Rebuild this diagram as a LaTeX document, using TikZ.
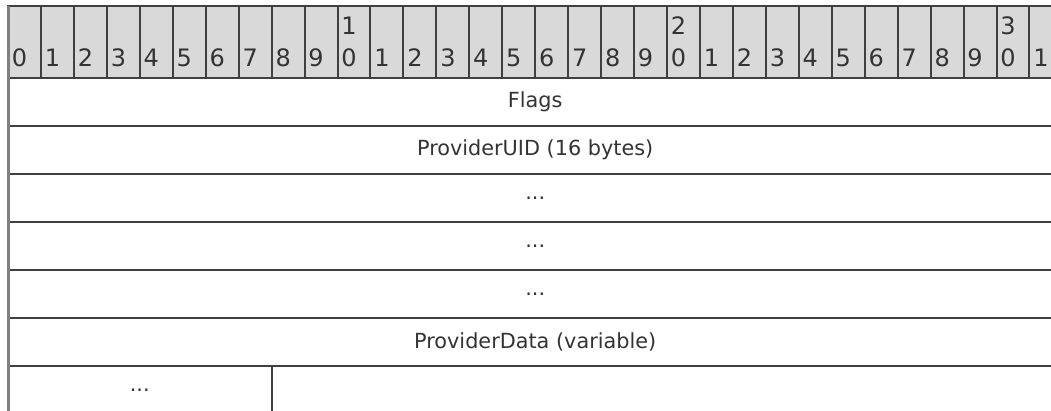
\documentclass[tikz,border=0pt]{standalone}
\usepackage{fontspec}
\setmainfont{DejaVu Sans}
\usetikzlibrary{positioning}

\definecolor{hdrfill}{HTML}{D9D9D9}
\definecolor{rule}{HTML}{404040}
\definecolor{txt}{HTML}{333333}

\tikzset{
  bitcell/.style={draw=rule, fill=hdrfill, line width=1pt, anchor=north west,
    minimum width=16.475pt, minimum height=36pt, inner sep=0pt, outer sep=0pt},
  bitnum/.style={anchor=base west, inner sep=0pt, text=txt,
    font=\fontsize{12}{13}\selectfont},
  field/.style={draw=rule, line width=1pt, anchor=north west, text=txt,
    minimum width=527.2pt, minimum height=24pt, inner sep=0pt, outer sep=0pt},
  shortfield/.style={field, minimum width=131.8pt},
}

\begin{document}
\begin{tikzpicture}[x=0.5pt,y=-0.5pt,font=\fontsize{10.4}{13}\selectfont]
  \clip (0,0) rectangle (1051,411);

  % header row: bit numbers
  \foreach \i in {0,...,31} {
    \node[bitcell] (b\i) at ({8+\i*32.95},6) {};
    \pgfmathtruncatemacro{\ones}{mod(\i,10)}
    \node[bitnum] (n\i) at ({11.5+\i*32.95},67) {\ones};
  }
  % tens digits
  \foreach \i/\t in {10/1, 20/2, 30/3} {
    \node[bitnum] (t\i) at ({11.5+\i*32.95},35) {\t};
  }

  % fields
  \node[field] (flags) at (8,78) {Flags};
  \node[field, below=0pt of flags] (uid) {ProviderUID (16 bytes)};
  \node[field, below=0pt of uid] (uid2) {...};
  \node[field, below=0pt of uid2] (uid3) {...};
  \node[field, below=0pt of uid3] (uid4) {...};
  \node[field, below=0pt of uid4] (pdata) {ProviderData (variable)};
  \node[shortfield, below=0pt of pdata.south west, anchor=north west] (pmore) {...};

  % left edge
  \draw[gray, line width=1.5pt] (b0.north west) -- (pmore.south west);
\end{tikzpicture}
\end{document}
